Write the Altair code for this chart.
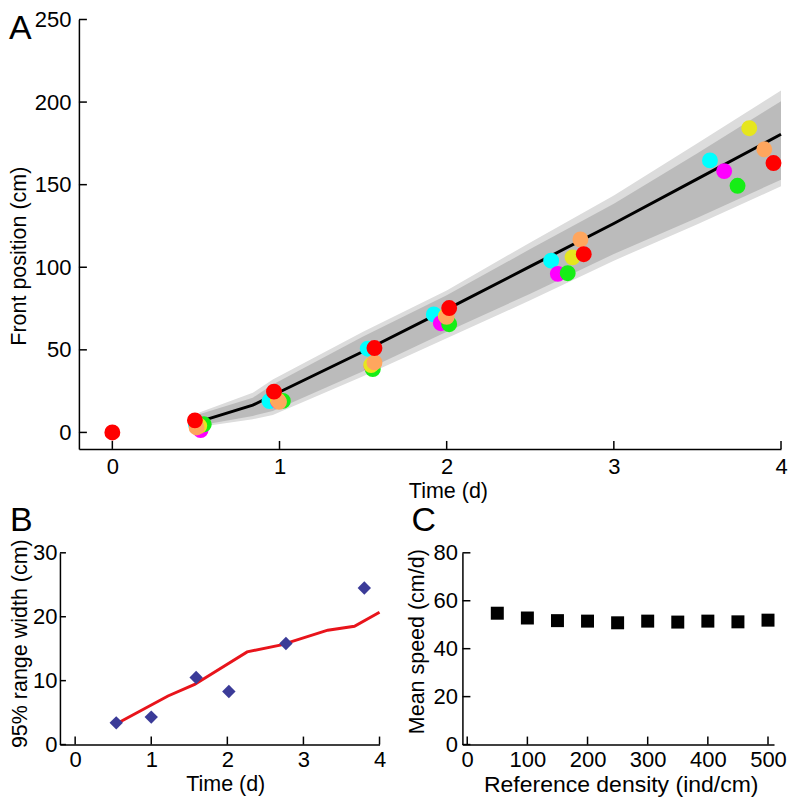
import altair as alt
import pandas as pd

FONT = "Liberation Sans"
FS = 21.5
LFS = 22

# ---------------- Panel A data ----------------
series = ["cyan", "magenta", "green", "yellow", "orange", "red"]
series_colors = ["#00FFFF", "#FF00FF", "#16EE16", "#E6E61E", "#FFA65E", "#FF0000"]

cyan_t = [0.50, 0.94, 1.528, 1.923, 2.625, 3.575]
cyan_y = [5.0, 19.0, 50.7, 71.4, 104.0, 164.7]
magenta_t = [0.528, 0.99, 1.55, 1.965, 2.665, 3.66]
magenta_y = [1.4, 19.0, 40.0, 66.1, 96.0, 158.2]
green_t = [0.547, 1.02, 1.558, 2.015, 2.724, 3.74]
green_y = [4.9, 19.1, 38.3, 65.5, 96.4, 149.3]
yellow_t = [0.52, 0.99, 1.548, 1.995, 2.753, 3.81]
yellow_y = [4.0, 19.5, 40.8, 70.4, 106.0, 184.2]
orange_t = [0.504, 0.997, 1.568, 2.0, 2.80, 3.90]
orange_y = [3.0, 18.5, 42.4, 70.0, 116.8, 171.4]
red_t = [0.0, 0.494, 0.967, 1.568, 2.015, 2.82, 3.955]
red_y = [0.0, 7.3, 24.7, 51.1, 75.3, 107.9, 163.1]

line_t = [0.52, 0.84, 0.96, 1.5, 2.0, 2.5, 3.0, 3.5, 4.0]
line_y = [6.5, 16.5, 22.5, 49.0, 74.5, 100.5, 126.5, 153.5, 180.5]

band_t = [0.52, 0.84, 0.96, 1.5, 2.0, 2.5, 3.0, 3.5, 4.0]
light_hi = [12.0, 24.0, 32.0, 61.0, 86.0, 115.0, 143.5, 175.0, 207.0]
dark_hi = [11.0, 21.0, 29.0, 58.0, 83.0, 111.0, 138.5, 169.0, 200.5]
dark_lo = [4.2, 10.0, 13.0, 37.0, 61.0, 84.0, 108.0, 130.0, 153.0]
light_lo = [3.3, 8.0, 10.5, 34.0, 57.0, 80.0, 104.0, 126.0, 149.0]

A_xticks = [0, 1, 2, 3, 4]
A_yticks = [0, 50, 100, 150, 200, 250]

# ---------------- Panel B data ----------------
b_diam_t = [0.54, 1.0, 1.59, 2.02, 2.77, 3.8]
b_diam_y = [3.4, 4.3, 10.5, 8.3, 15.8, 24.5]
b_line_t = [0.55, 1.22, 1.57, 2.26, 2.71, 3.32, 3.67, 4.0]
b_line_y = [3.3, 7.6, 9.4, 14.5, 15.6, 17.9, 18.5, 20.7]
B_xticks = [0, 1, 2, 3, 4]
B_yticks = [0, 10, 20, 30]

# ---------------- Panel C data ----------------
c_density = [50, 100, 150, 200, 250, 300, 350, 400, 450, 500]
c_speed = [54.8, 52.8, 51.7, 51.5, 50.8, 51.5, 51.1, 51.5, 51.2, 51.9]
C_xticks = [0, 100, 200, 300, 400, 500]
C_yticks = [0, 20, 40, 60, 80]

# ---------------- sizes ----------------
WA, HA = 703, 430
WB, HB = 320, 192
WC, HC = 312, 192


def tick_layers(xenc, yenc, xticks, yticks, h, tlen_x, tlen_y):
    tx = alt.Chart(pd.DataFrame({"x": xticks})).mark_rule(color="black", strokeWidth=1.5).encode(
        x=xenc, y=alt.value(h), y2=alt.value(h - tlen_x))
    ty = alt.Chart(pd.DataFrame({"y": yticks})).mark_rule(color="black", strokeWidth=1.5).encode(
        y=yenc, x=alt.value(0), x2=alt.value(tlen_y))
    return tx, ty


def label(txt, x, y, size=FS, angle=0, align="center"):
    return alt.Chart(pd.DataFrame({"t": [txt]})).mark_text(
        font=FONT, fontSize=size, align=align, baseline="alphabetic", color="black", angle=angle
    ).encode(text="t:N", x=alt.value(x), y=alt.value(y))


def spacer():
    return alt.Chart(pd.DataFrame({"t": [""]})).mark_text(fontSize=1).encode(
        text="t:N", x=alt.value(0), y=alt.value(0)).properties(width=1, height=1)


# ---------------- Panel A ----------------
rows = []
k = 0
for name, ts, ys in [("cyan", cyan_t, cyan_y), ("magenta", magenta_t, magenta_y),
                     ("green", green_t, green_y), ("yellow", yellow_t, yellow_y),
                     ("orange", orange_t, orange_y), ("red", red_t, red_y)]:
    for t, v in zip(ts, ys):
        rows.append({"x": t, "y": v, "run": name, "k": k})
        k += 1
pts = pd.DataFrame(rows)
light_df = pd.DataFrame({"x": band_t, "y": light_lo, "y2": light_hi})
dark_df = pd.DataFrame({"x": band_t, "y": dark_lo, "y2": dark_hi})
line_df = pd.DataFrame({"x": line_t, "y": line_y})

axA_x = alt.Axis(values=A_xticks, title=None, format="d", labelPadding=8,
                 labelFlush=False, labelOverlap=False)
axA_y = alt.Axis(values=A_yticks, title=None, format="d", labelPadding=8, labelOverlap=False)
xA = alt.X("x:Q", scale=alt.Scale(domain=[-0.2, 4], nice=False, zero=False), axis=axA_x)
yA = alt.Y("y:Q", scale=alt.Scale(domain=[-10, 250], nice=False, zero=False), axis=axA_y)

lightA = alt.Chart(light_df).mark_area(color="#DCDCDC", opacity=1).encode(x=xA, y=yA, y2="y2:Q")
darkA = alt.Chart(dark_df).mark_area(color="#BBBBBB", opacity=1).encode(x=xA, y=yA, y2="y2:Q")
lineA = alt.Chart(line_df).mark_line(color="black", strokeWidth=3).encode(x=xA, y=yA)
ptsA = alt.Chart(pts).mark_circle(size=254, opacity=1).encode(
    x=xA, y=yA,
    color=alt.Color("run:N", scale=alt.Scale(domain=series, range=series_colors), legend=None),
    order=alt.Order("k:Q"))
txA, tyA = tick_layers(xA, yA, A_xticks, A_yticks, HA, 8, 8)
panelA = alt.layer(
    lightA, darkA, lineA, ptsA, txA, tyA,
    label("A", -70, 20, size=34, align="left"),
    label("Front position (cm)", -53, 237, angle=270),
    label("Time (d)", 370, HA + 49),
).properties(width=WA, height=HA)

# ---------------- Panel B ----------------
axB_x = alt.Axis(values=B_xticks, title=None, format="d", labelPadding=5,
                 labelFlush=False, labelOverlap=False)
axB_y = alt.Axis(values=B_yticks, title=None, format="d", labelPadding=3, labelOverlap=False)
xB = alt.X("x:Q", scale=alt.Scale(domain=[-0.2, 4], nice=False, zero=False), axis=axB_x)
yB = alt.Y("y:Q", scale=alt.Scale(domain=[0, 30], nice=False, zero=False), axis=axB_y)
lineB = alt.Chart(pd.DataFrame({"x": b_line_t, "y": b_line_y})).mark_line(
    color="#E8141B", strokeWidth=3).encode(x=xB, y=yB)
diamB = alt.Chart(pd.DataFrame({"x": b_diam_t, "y": b_diam_y})).mark_point(
    shape="diamond", size=180, filled=True, opacity=1, color="#3B3B98").encode(x=xB, y=yB)
txB, tyB = tick_layers(xB, yB, B_xticks, B_yticks, HB, 8, 6)
panelB = alt.layer(
    lineB, diamB, txB, tyB,
    label("B", -50, -22, size=34, align="left"),
    label("95% range width (cm)", -33, 91, angle=270),
    label("Time (d)", 166, HB + 46),
).properties(width=WB, height=HB)

# ---------------- Panel C ----------------
axC_x = alt.Axis(values=C_xticks, title=None, format="d", labelPadding=5,
                 labelFlush=False, labelOverlap=False)
axC_y = alt.Axis(values=C_yticks, title=None, format="d", labelPadding=5, labelOverlap=False)
xC = alt.X("x:Q", scale=alt.Scale(domain=[-8, 510], nice=False, zero=False), axis=axC_x)
yC = alt.Y("y:Q", scale=alt.Scale(domain=[0, 80], nice=False, zero=False), axis=axC_y)
sqC = alt.Chart(pd.DataFrame({"x": c_density, "y": c_speed})).mark_point(
    shape="square", size=169, filled=True, opacity=1, color="black").encode(x=xC, y=yC)
txC, tyC = tick_layers(xC, yC, C_xticks, C_yticks, HC, 8, 8)
panelC = alt.layer(
    sqC, txC, tyC,
    label("C", -51, -22, size=34, align="left"),
    label("Mean speed (cm/d)", -38, 89, angle=270),
    label("Reference density (ind/cm)", 159, HC + 47.5, size=23),
).properties(width=WC, height=HC)

row1 = alt.hconcat(spacer(), panelA, spacing=0)
row2 = alt.hconcat(spacer(), alt.hconcat(panelB, panelC, spacing=20), spacing=0)

chart = alt.vconcat(row1, row2, spacing=1).properties(padding=0).configure_view(
    stroke=None
).configure_axis(
    domainColor="black", domainWidth=1.5, labelColor="black",
    labelFont=FONT, labelFontSize=LFS, grid=False, ticks=False, tickSize=0,
)

chart.save("out.html", embed_options={"renderer": "svg", "actions": False})
